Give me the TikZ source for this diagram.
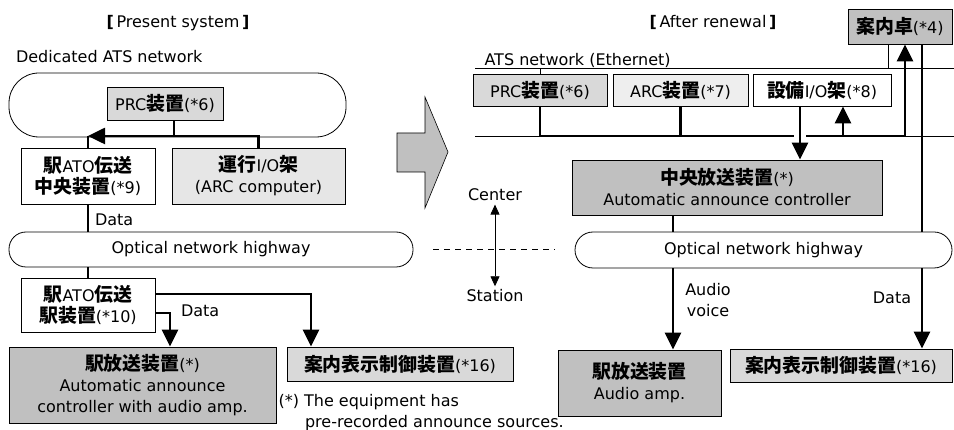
\documentclass[tikz,border=0pt]{standalone}
\usepackage{fontspec}
\setmainfont{DejaVu Sans}
\newfontfamily\jpfont{Noto Sans CJK JP}[Scale=1.18]
\newcommand{\jp}[1]{{\jpfont\bfseries #1}}
\usetikzlibrary{arrows.meta, calc}
\definecolor{grayA}{HTML}{C0C0C0}
\definecolor{grayB}{HTML}{D9D9D9}
\definecolor{grayC}{HTML}{E6E6E6}
\definecolor{grayD}{HTML}{EEEEEE}

\begin{document}
\begin{tikzpicture}[x=1pt, y=-1pt,
    every node/.style={font=\fontsize{16}{21}\selectfont},
    box/.style={draw, line width=0.8pt, inner sep=0pt, align=center},
    net/.style={draw, line width=0.8pt, fill=white, inner sep=0pt},
    heavy/.style={line width=2.6pt},
    bigarr/.style={-{Triangle[length=17pt, width=16pt]}},
    smallarr/.style={-{Triangle[length=10pt, width=9pt]}}]
    \useasboundingbox (0,0) rectangle (954,430);

    % Present system
    \node (ttlOld) at (178,23) {{\bfseries[}\,Present system\,{\bfseries]}};
    \node[anchor=west] (netOldLbl) at (12.5,57) {Dedicated ATS network};
    \node[net, rounded corners=30pt, minimum width=337pt, minimum height=64pt] (netOld) at (177.5,105) {};
    \node[box, fill=grayB, minimum width=116pt, minimum height=33pt] (prcOld) at (165,103.5) {PRC\jp{装置}(*6)};
    \node[box, fill=white, minimum width=134pt, minimum height=56pt] (atoCtr) at (88,176) {\jp{駅}ATO\jp{伝送}\\\jp{中央装置}(*9)};
    \node[box, fill=grayC, minimum width=173pt, minimum height=56pt] (ioOld) at (258.5,176) {\jp{運行}I/O\jp{架}\\(ARC computer)};
    \node[net, rounded corners=17pt, minimum width=404pt, minimum height=35pt] (hwOld) at (211,249.5) {Optical network highway};
    \node[box, fill=white, minimum width=134pt, minimum height=54pt] (atoSta) at (88,305) {\jp{駅}ATO\jp{伝送}\\\jp{駅装置}(*10)};
    \node[box, fill=grayA, minimum width=267pt, minimum height=76pt] (spaOld) at (142.5,385) {\jp{駅放送装置}(*)\\Automatic announce\\controller with audio amp.};
    \node[box, fill=grayB, minimum width=226pt, minimum height=34pt] (guideOld) at (400,364) {\jp{案内表示制御装置}(*16)};
    \node[anchor=west] (dataOldA) at (91.5,220) {Data};
    \node[anchor=west] (dataOldB) at (177.5,311) {Data};
    \node[anchor=west] (noteA) at (275,402) {(*) The equipment has};
    \node[anchor=west] (noteB) at (301.5,423) {pre-recorded announce sources.};

    \coordinate (jOld) at (88,136);
    \coordinate (pOld) at (174,136);
    \coordinate (gOld) at (311,0);
    \coordinate (sOld) at (170,0);
    \draw[heavy] (prcOld.south -| pOld) -- (pOld);
    \draw[heavy, bigarr] (ioOld.north) |- (jOld);
    \draw[heavy] (jOld) -- (atoCtr.north);
    \draw[heavy] (atoCtr.south) -- (hwOld.north -| atoCtr.south);
    \draw[heavy] (hwOld.south -| atoSta.north) -- (atoSta.north);
    \draw[heavy, bigarr] ($(atoSta.east)+(0,-11)$) -| (guideOld.north -| gOld);
    \draw[heavy, bigarr] ($(atoSta.east)+(0,8)$) -| (spaOld.north -| sOld);

    % big arrow
    \draw[line width=0.6pt, fill=grayA] (397,133) -- (425,133) -- (425,97) -- (448,152)
        -- (425,208) -- (425,172) -- (397,172) -- cycle;

    % Center / Station
    \node (ctrLbl) at (495,195) {Center};
    \node (staLbl) at (495,296) {Station};
    \coordinate (mid) at (495,249);
    \draw[dash pattern=on 6pt off 5pt, line width=0.6pt] (433,249) -- (555,249);
    \draw[line width=0.8pt, smallarr] (mid) -- (ctrLbl.south);
    \draw[line width=0.8pt, smallarr] (mid) -- (staLbl.north);

    % After renewal
    \node (ttlNew) at (713,22) {{\bfseries[}\,After renewal\,{\bfseries]}};
    \node[anchor=west] (netNewLbl) at (481,60) {ATS network (Ethernet)};
    \coordinate (eth) at (475,68);
    \coordinate (bus) at (475,136);
    \coordinate (busA) at (794,136);
    \coordinate (busB) at (806,136);
    \draw[line width=0.8pt] (eth) -- (954,68);
    \draw[line width=0.8pt] (bus) -- (busA);
    \draw[line width=0.8pt] (busB) -- (954,136);
    \node[box, fill=grayA, minimum width=104pt, minimum height=35pt] (deskNew) at (900,26.5) {\jp{案内卓}(*4)};
    \node[box, fill=grayB, minimum width=134pt, minimum height=32pt] (prcNew) at (540,90) {PRC\jp{装置}(*6)};
    \node[box, fill=grayD, minimum width=135pt, minimum height=32pt] (arcNew) at (680.5,90) {ARC\jp{装置}(*7)};
    \node[box, fill=white, minimum width=138pt, minimum height=32pt] (eqNew) at (822,90) {\jp{設備}I/O\jp{架}(*8)};
    \node[box, fill=grayA, minimum width=310pt, minimum height=55pt] (cpaNew) at (727,187.5) {\jp{中央放送装置}(*)\\Automatic announce controller};
    \node[net, rounded corners=18pt, minimum width=377pt, minimum height=36pt] (hwNew) at (763.5,250) {Optical network highway};
    \node[box, fill=grayA, minimum width=163pt, minimum height=66pt] (spaNew) at (639.5,383) {\jp{駅放送装置}\\Audio amp.};
    \node[box, fill=grayB, minimum width=222pt, minimum height=33pt] (guideNew) at (841,365.5) {\jp{案内表示制御装置}(*16)};
    \node[align=center] (avLbl) at (708,300) {Audio\\voice};
    \node (dataNew) at (892,298) {Data};

    \coordinate (deskX) at (888,0);
    \coordinate (upX) at (905,0);
    \coordinate (dnX) at (922,0);
    \coordinate (avX) at (673,0);
    \coordinate (eqUp) at ($(eqNew.south)+(21,0)$);
    \coordinate (eqDn) at ($(eqNew.south)+(-22,0)$);
    \draw[line width=0.8pt] (prcNew.north) -- (prcNew.north |- eth);
    \draw[line width=0.8pt] (deskNew.south -| deskX) -- (deskX |- eth);
    \draw[heavy] (prcNew.south) |- (busA);
    \draw[heavy] (arcNew.south) -- (arcNew.south |- bus);
    \draw[heavy, bigarr] (busB) -| (deskNew.south -| upX);
    \draw[heavy, bigarr] (eqUp |- bus) -- (eqUp);
    \draw[heavy, bigarr] (eqDn) -- (cpaNew.north -| eqDn);
    \draw[heavy] (cpaNew.south -| avX) -- (hwNew.north -| avX);
    \draw[heavy, bigarr] (hwNew.south -| avX) -- (spaNew.north -| avX);
    \draw[heavy] (deskNew.south -| dnX) -- (hwNew.north -| dnX);
    \draw[heavy, bigarr] (hwNew.south -| dnX) -- (guideNew.north -| dnX);
\end{tikzpicture}
\end{document}
